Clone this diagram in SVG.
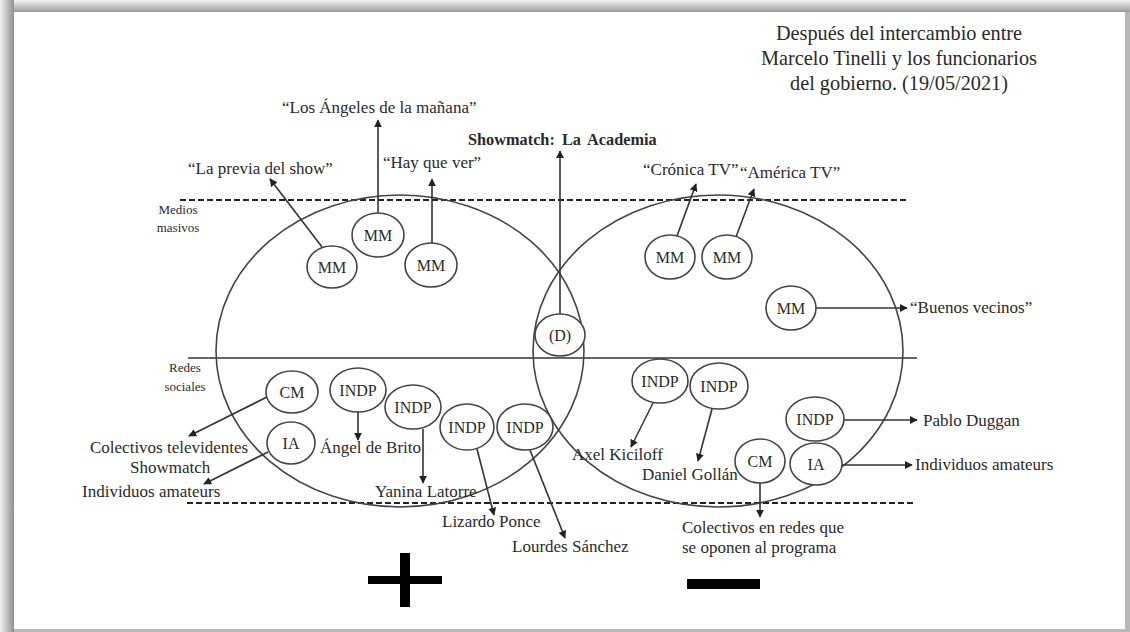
<svg xmlns="http://www.w3.org/2000/svg" width="1130" height="632" viewBox="0 0 1130 632">
<defs>
<linearGradient id="gl" x1="0" y1="0" x2="1" y2="0"><stop offset="0" stop-color="#f2f2f2"/><stop offset="1" stop-color="#8f8f8f"/></linearGradient>
<linearGradient id="gt" x1="0" y1="0" x2="0" y2="1"><stop offset="0" stop-color="#f4f4f4"/><stop offset="1" stop-color="#9a9a9a"/></linearGradient>
<marker id="ah" viewBox="0 0 10 10" refX="9" refY="5" markerWidth="8" markerHeight="8" markerUnits="userSpaceOnUse" orient="auto"><path d="M0,0 L10,5 L0,10 z" fill="#222"/></marker>
<style>
text{font-family:"Liberation Serif","Times New Roman",serif;fill:#2a2a2a}
.t{font-size:17px}
.n{font-size:16px;text-anchor:middle}
.s{font-size:13px;text-anchor:middle}
.h{font-size:20.3px;text-anchor:middle}
.node ellipse{fill:#fff;stroke:#444;stroke-width:1.6}
.big{fill:none;stroke:#444;stroke-width:1.6}
.dash{stroke:#222;stroke-width:2;stroke-dasharray:6,3}
.line{stroke:#333;stroke-width:1.6}
.c line{stroke:#333;stroke-width:1.6;marker-end:url(#ah)}
</style>
</defs>
<rect x="0" y="0" width="1130" height="632" fill="#b8b8b8"/>
<rect x="0" y="0" width="1130" height="12" fill="url(#gt)"/>
<rect x="0" y="0" width="14" height="632" fill="url(#gl)"/>
<rect x="14" y="12" width="1111" height="617" fill="#fff"/>

<g id="title">
<text class="h" x="899" y="40">Después del intercambio entre</text>
<text class="h" x="899" y="65">Marcelo Tinelli y los funcionarios</text>
<text class="h" x="899" y="90">del gobierno. (19/05/2021)</text>
</g>

<g id="frame-lines">
<line class="dash" x1="180" y1="200" x2="906" y2="200"/>
<line class="line" x1="188" y1="358" x2="917" y2="358"/>
<line class="dash" x1="187" y1="503" x2="916" y2="503"/>
<ellipse class="big" cx="400" cy="351" rx="184" ry="156"/>
<ellipse class="big" cx="718" cy="351" rx="185" ry="156"/>
</g>

<g id="side-labels">
<text class="s" x="178" y="214">Medios</text>
<text class="s" x="178" y="232">masivos</text>
<text class="s" x="185" y="372">Redes</text>
<text class="s" x="185" y="391">sociales</text>
</g>

<g id="connectors" class="c">
<line x1="322" y1="247" x2="270" y2="179"/>
<line x1="378" y1="213" x2="378" y2="120"/>
<line x1="432" y1="243" x2="432" y2="179"/>
<line x1="560" y1="314" x2="560" y2="151"/>
<line x1="677" y1="236" x2="696" y2="184"/>
<line x1="736" y1="237" x2="754" y2="189"/>
<line x1="816" y1="308" x2="907" y2="308"/>
<line x1="267" y1="397" x2="189" y2="436"/>
<line x1="268" y1="452" x2="204" y2="484"/>
<line x1="358" y1="412" x2="358" y2="440"/>
<line x1="423" y1="429" x2="423" y2="483"/>
<line x1="477" y1="449" x2="494" y2="515"/>
<line x1="530" y1="450" x2="565" y2="538"/>
<line x1="653" y1="403" x2="631" y2="447"/>
<line x1="712" y1="409" x2="698" y2="461"/>
<line x1="844" y1="420" x2="917" y2="420"/>
<line x1="842" y1="465" x2="912" y2="465"/>
<line x1="760" y1="483" x2="760" y2="517"/>
</g>

<g id="n-mm1" class="node"><ellipse cx="332" cy="267" rx="25" ry="21"/><text class="n" x="332" y="273">MM</text></g>
<g id="n-mm2" class="node"><ellipse cx="378" cy="235" rx="26" ry="22"/><text class="n" x="378" y="241">MM</text></g>
<g id="n-mm3" class="node"><ellipse cx="431" cy="265" rx="26" ry="22"/><text class="n" x="431" y="271">MM</text></g>
<g id="n-d" class="node"><ellipse cx="560" cy="335" rx="25" ry="21"/><text class="n" x="560" y="341">(D)</text></g>
<g id="n-mm4" class="node"><ellipse cx="670" cy="257" rx="25" ry="22"/><text class="n" x="670" y="263">MM</text></g>
<g id="n-mm5" class="node"><ellipse cx="727" cy="257" rx="25" ry="22"/><text class="n" x="727" y="263">MM</text></g>
<g id="n-mm6" class="node"><ellipse cx="791" cy="308" rx="25" ry="22"/><text class="n" x="791" y="314">MM</text></g>

<g id="n-cm1" class="node"><ellipse cx="292" cy="392" rx="26" ry="21"/><text class="n" x="292" y="398">CM</text></g>
<g id="n-ia1" class="node"><ellipse cx="291" cy="443" rx="24" ry="21"/><text class="n" x="291" y="449">IA</text></g>
<g id="n-indp1" class="node"><ellipse cx="358" cy="390" rx="28" ry="22"/><text class="n" x="358" y="396">INDP</text></g>
<g id="n-indp2" class="node"><ellipse cx="413" cy="407" rx="28" ry="22"/><text class="n" x="413" y="413">INDP</text></g>
<g id="n-indp3" class="node"><ellipse cx="467" cy="427" rx="27" ry="23"/><text class="n" x="467" y="433">INDP</text></g>
<g id="n-indp4" class="node"><ellipse cx="525" cy="427" rx="28" ry="23"/><text class="n" x="525" y="433">INDP</text></g>

<g id="n-indp5" class="node"><ellipse cx="660" cy="381" rx="28" ry="22"/><text class="n" x="660" y="387">INDP</text></g>
<g id="n-indp6" class="node"><ellipse cx="719" cy="386" rx="29" ry="23"/><text class="n" x="719" y="392">INDP</text></g>
<g id="n-indp7" class="node"><ellipse cx="815" cy="419" rx="29" ry="22"/><text class="n" x="815" y="425">INDP</text></g>
<g id="n-ia2" class="node"><ellipse cx="816" cy="464" rx="26" ry="21"/><text class="n" x="816" y="470">IA</text></g>
<g id="n-cm2" class="node"><ellipse cx="760" cy="461" rx="25" ry="22"/><text class="n" x="760" y="467">CM</text></g>

<g id="labels">
<text class="t" x="188" y="174">“La previa del show”</text>
<text class="t" x="282" y="113">“Los Ángeles de la mañana”</text>
<text class="t" x="383" y="168">“Hay que ver”</text>
<text class="t" x="468" y="145" style="font-weight:bold;font-size:16.3px" word-spacing="3">Showmatch: La Academia</text>
<text class="t" x="643" y="175">“Crónica TV”</text>
<text class="t" x="740" y="178">“América TV”</text>
<text class="t" x="910" y="313">“Buenos vecinos”</text>
<text class="t" x="90" y="453">Colectivos televidentes</text>
<text class="t" x="130" y="473">Showmatch</text>
<text class="t" x="82" y="497">Individuos amateurs</text>
<text class="t" x="320" y="453">Ángel de Brito</text>
<text class="t" x="375" y="497">Yanina Latorre</text>
<text class="t" x="442" y="527">Lizardo Ponce</text>
<text class="t" x="512" y="552">Lourdes Sánchez</text>
<text class="t" x="572" y="460">Axel Kiciloff</text>
<text class="t" x="642" y="480">Daniel Gollán</text>
<text class="t" x="923" y="426">Pablo Duggan</text>
<text class="t" x="915" y="470">Individuos amateurs</text>
<text class="t" x="682" y="533">Colectivos en redes que</text>
<text class="t" x="682" y="553">se oponen al programa</text>
</g>

<g id="signs" fill="#000">
<rect x="368" y="576" width="74" height="8"/>
<rect x="400" y="553" width="10" height="54"/>
<rect x="687" y="579" width="73" height="10"/>
</g>
</svg>
